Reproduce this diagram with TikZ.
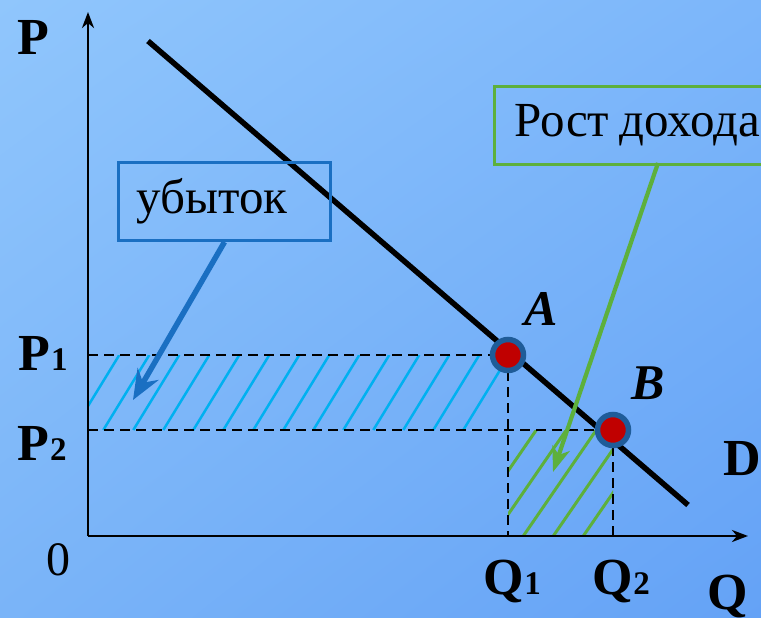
\documentclass[tikz,border=0pt]{standalone}
\usepackage{fontspec}
\setmainfont{Liberation Serif}
\usetikzlibrary{arrows.meta,shadings}
\definecolor{bgA}{HTML}{90C6FC}
\definecolor{bgB}{HTML}{7CB6FA}
\definecolor{bgC}{HTML}{7AB4F8}
\definecolor{bgD}{HTML}{64A2F6}
\definecolor{hatchblue}{HTML}{00B0F0}
\definecolor{hatchgreen}{HTML}{5DB03C}
\definecolor{boxblue}{HTML}{1A6FC2}
\definecolor{dotred}{HTML}{C00000}
\definecolor{dotblue}{HTML}{1F5C99}
\newcommand\osn[1]{{\fontsize{33}{40}\selectfont\hspace{1pt}#1}}
\begin{document}
\begin{tikzpicture}[x=1pt,y=-1pt,
  lbl/.style={font=\fontsize{52}{60}\selectfont\bfseries, inner sep=0pt, anchor=base},
  ilbl/.style={font=\fontsize{50}{60}\selectfont\bfseries\itshape, inner sep=0pt, anchor=base},
  rlbl/.style={font=\fontsize{48}{58}\selectfont, inner sep=0pt, anchor=base},
  hatchb/.style={draw=hatchblue, line width=2.5pt},
  hatchg/.style={draw=hatchgreen, line width=3pt},
  dashln/.style={draw=black, line width=2.2pt, dash pattern=on 10pt off 6pt},
  axisln/.style={draw=black, line width=2.6pt, -{Stealth[length=16pt,width=12pt,inset=5pt]}},
  demand/.style={draw=black, line width=5.5pt},
  pt/.style={circle, fill=dotred, draw=dotblue, line width=5.5pt, minimum size=31pt, inner sep=0pt, outer sep=0pt},
  textbox/.style={font=\fontsize{49}{58}\selectfont, line width=3pt, anchor=north west,
    minimum height=78pt, inner ysep=0pt, align=left},
]
\useasboundingbox (0,0) rectangle (761,618);
\clip (0,0) rectangle (761,618);
\shade[upper left=bgA, upper right=bgB, lower left=bgC, lower right=bgD] (0,0) rectangle (761,618);

% hatching
\begin{scope}
  \clip (88,355) rectangle (508,430);
  \foreach \k in {0,...,13} \draw[hatchb] ({73.3+30*\k},430) -- ++(46,-75);
\end{scope}
\begin{scope}
  \clip (508,430) rectangle (613,536);
  \foreach \k in {0,...,4} \draw[hatchg] ({463.3+30*\k},536) -- ++(73,-106);
\end{scope}

% coordinates
\coordinate (O) at (88,536);
\coordinate (Ptop) at (88,12);
\coordinate (Qend) at (748,536);
\coordinate (P1c) at (88,355);
\coordinate (P2c) at (88,430);
\coordinate (Q1c) at (508,536);
\coordinate (Q2c) at (613,536);
\coordinate (D1) at (148,41);
\coordinate (D2) at (688,505);
\coordinate (Ac) at (508,355);
\coordinate (Bc) at (613,430);

% dashed guides
\draw[dashln] (P1c) -- (Ac);
\draw[dashln] (Ac) -- (Q1c);
\draw[dashln] (P2c) -- (Bc);
\draw[dashln] (Bc) -- (Q2c);

% axes
\draw[axisln] (O) -- (Ptop);
\draw[axisln] (O) -- (Qend);

% demand line
\draw[demand] (D1) -- (D2);

% boxes
\node[textbox, draw=boxblue, text width=176pt, inner xsep=18pt] (loss) at (117,161) {убыток};
\node[textbox, draw=hatchgreen, text width=290pt, inner xsep=20pt] (grow) at (493,85) {Рост\hspace{0.2em}дохода};

% arrows
\coordinate (lossTip) at (133,400);
\coordinate (growTip) at (553,472);
\coordinate (growFrom) at (658,163);
\draw[draw=boxblue, line width=5.5pt, -{Stealth[length=30pt,width=24pt,inset=10pt]}] (loss.south) -- (lossTip);
\draw[draw=hatchgreen, line width=4.2pt, -{Stealth[length=25pt,width=18pt,inset=7pt]}] (growFrom) -- (growTip);

% points
\node[pt] (A) at (Ac) {};
\node[pt] (B) at (Bc) {};

% labels
\node[lbl] (Plab) at (33,55) {P};
\node[lbl] (P1lab) at (43,370) {P\osn{1}};
\node[lbl] (P2lab) at (42,460) {P\osn{2}};
\node[rlbl] (Olab) at (58,575) {0};
\node[lbl] (Q1lab) at (512,594) {Q\osn{1}};
\node[lbl] (Q2lab) at (621,594) {Q\osn{2}};
\node[lbl] (Qlab) at (728,609) {Q};
\node[lbl] (Dlab) at (742,475) {D};
\node[ilbl] (Alab) at (541,325) {A};
\node[ilbl] (Blab) at (648,399) {B};
\end{tikzpicture}
\end{document}
